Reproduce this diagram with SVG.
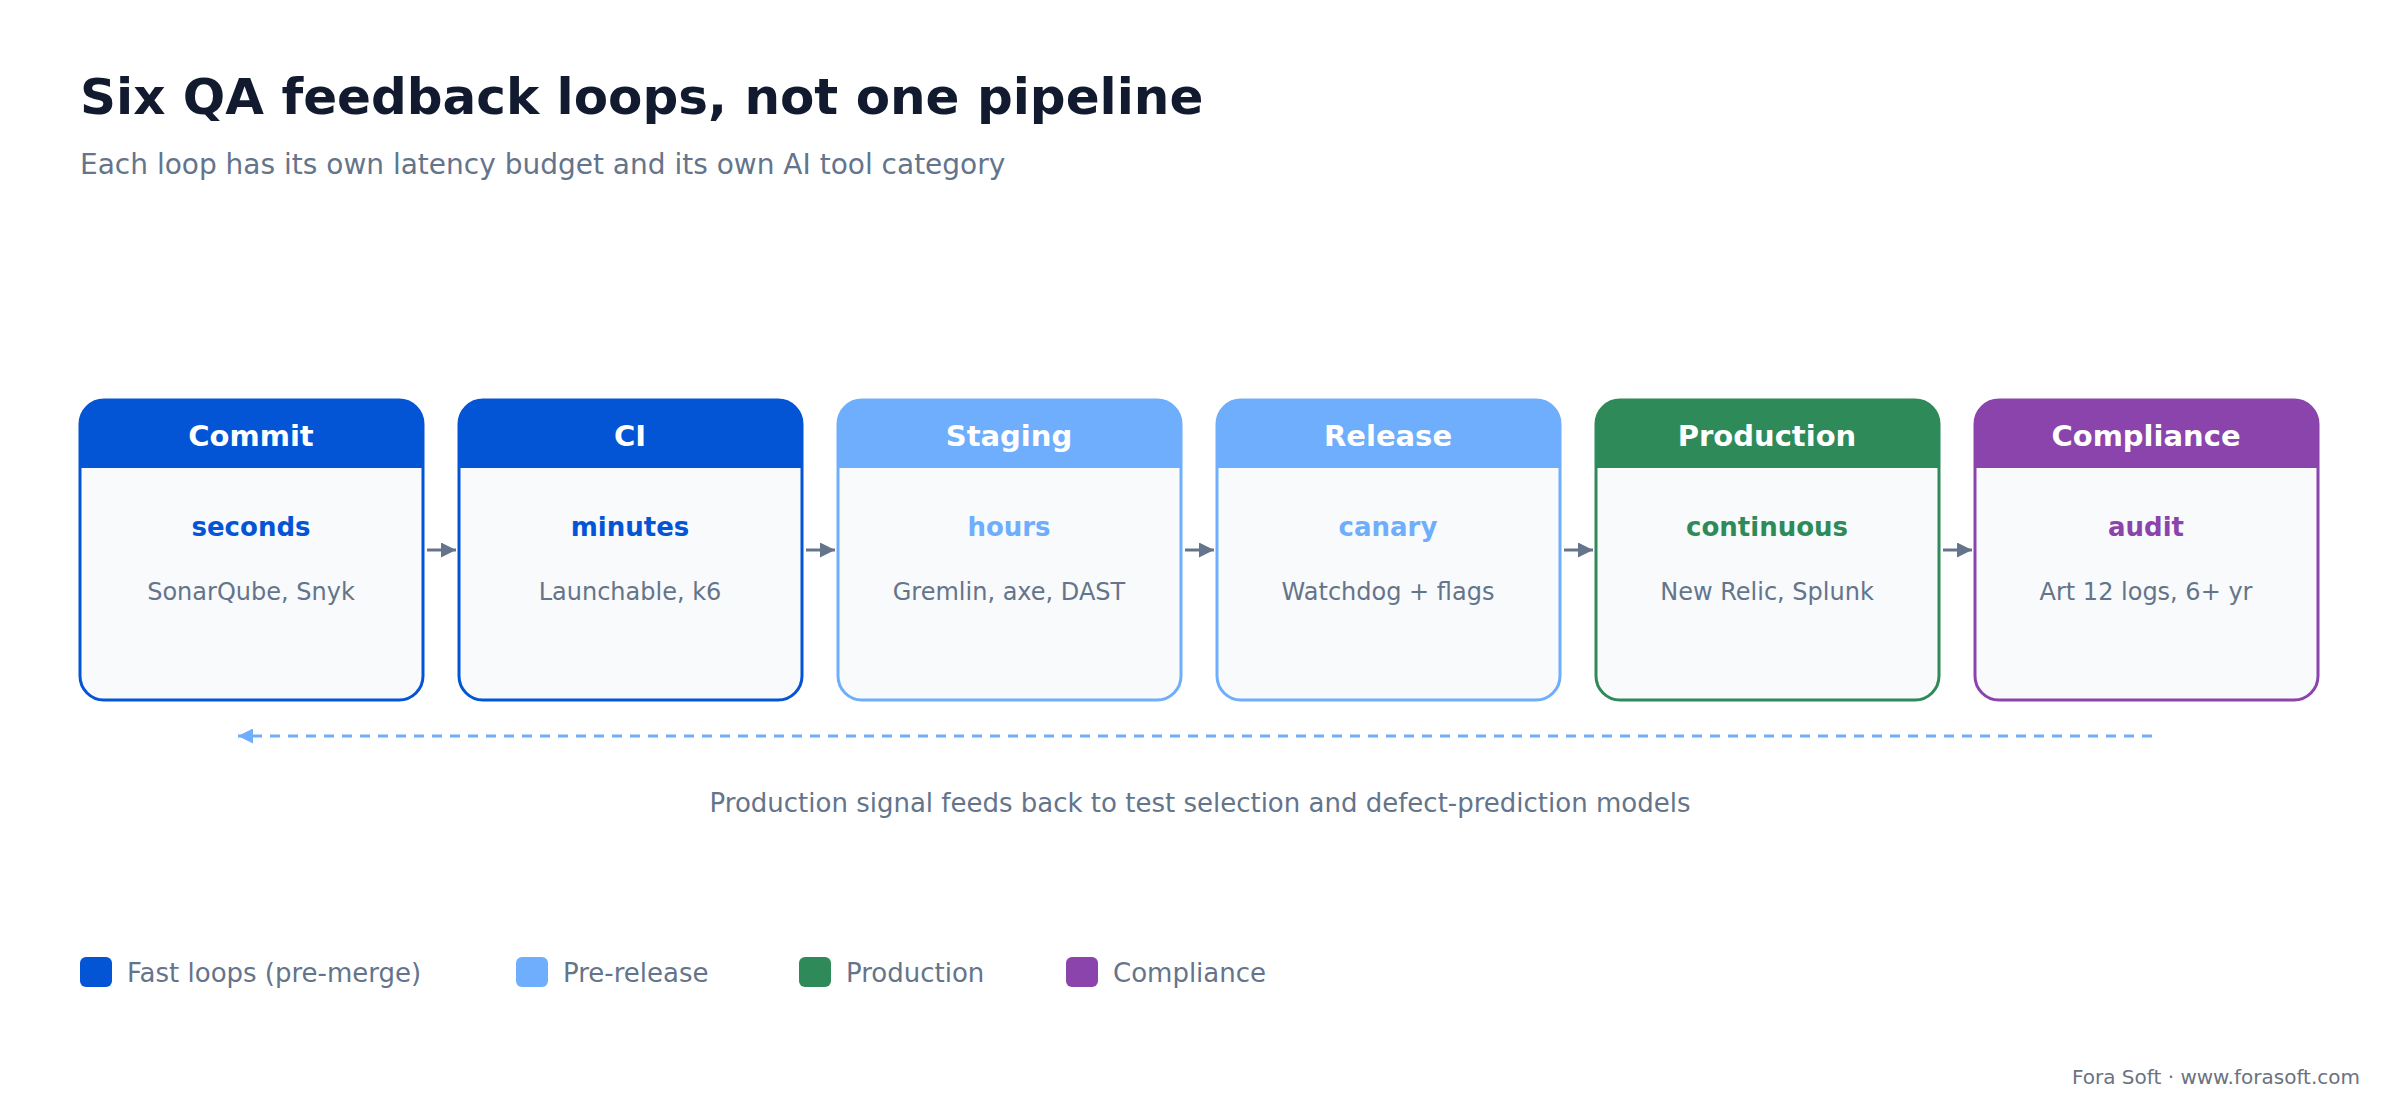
<svg xmlns="http://www.w3.org/2000/svg" width="2400" height="1120" viewBox="0 0 2400 1120">
<style>
text{font-family:"DejaVu Sans",sans-serif}
.t{font-size:50px;font-weight:bold;fill:#111a2e}
.s{font-size:28px;fill:#64748b}
.h{font-size:29px;font-weight:bold;fill:#fff;text-anchor:middle}
.l{font-size:26px;font-weight:bold;text-anchor:middle}
.d{font-size:24px;fill:#64748b;text-anchor:middle}
.g{font-size:26px;fill:#64748b}
.body{fill:#f8fafc;stroke-width:3}
</style>
<defs>
<marker id="a" viewBox="0 0 10 10" refX="10" refY="5" markerWidth="5" markerHeight="5" orient="auto"><path d="M0,0L10,5L0,10z" fill="#64748b"/></marker>
<marker id="b" viewBox="0 0 10 10" refX="10" refY="5" markerWidth="5" markerHeight="5" orient="auto"><path d="M0,0L10,5L0,10z" fill="#6eaefc"/></marker>
</defs>
<rect width="2400" height="1120" fill="#fff"/>
<text class="t" x="80" y="114">Six QA feedback loops, not one pipeline</text>
<text class="s" x="80" y="174">Each loop has its own latency budget and its own AI tool category</text>
<g id="n1"><rect class="body" x="80" y="400" width="343" height="300" rx="24" stroke="#0355d6"/><path d="M80,468V424a24,24 0 0 1 24-24H399a24,24 0 0 1 24,24V468z" fill="#0355d6"/><text class="h" x="251" y="446">Commit</text><text class="l" x="251" y="536" fill="#0355d6">seconds</text><text class="d" x="251" y="600">SonarQube, Snyk</text></g>
<g id="n2"><rect class="body" x="459" y="400" width="343" height="300" rx="24" stroke="#0355d6"/><path d="M459,468V424a24,24 0 0 1 24-24H778a24,24 0 0 1 24,24V468z" fill="#0355d6"/><text class="h" x="630" y="446">CI</text><text class="l" x="630" y="536" fill="#0355d6">minutes</text><text class="d" x="630" y="600">Launchable, k6</text></g>
<g id="n3"><rect class="body" x="838" y="400" width="343" height="300" rx="24" stroke="#6eaefc"/><path d="M838,468V424a24,24 0 0 1 24-24H1157a24,24 0 0 1 24,24V468z" fill="#6eaefc"/><text class="h" x="1009" y="446">Staging</text><text class="l" x="1009" y="536" fill="#6eaefc">hours</text><text class="d" x="1009" y="600">Gremlin, axe, DAST</text></g>
<g id="n4"><rect class="body" x="1217" y="400" width="343" height="300" rx="24" stroke="#6eaefc"/><path d="M1217,468V424a24,24 0 0 1 24-24H1536a24,24 0 0 1 24,24V468z" fill="#6eaefc"/><text class="h" x="1388" y="446">Release</text><text class="l" x="1388" y="536" fill="#6eaefc">canary</text><text class="d" x="1388" y="600">Watchdog + flags</text></g>
<g id="n5"><rect class="body" x="1596" y="400" width="343" height="300" rx="24" stroke="#2e8a58"/><path d="M1596,468V424a24,24 0 0 1 24-24H1915a24,24 0 0 1 24,24V468z" fill="#2e8a58"/><text class="h" x="1767" y="446">Production</text><text class="l" x="1767" y="536" fill="#2e8a58">continuous</text><text class="d" x="1767" y="600">New Relic, Splunk</text></g>
<g id="n6"><rect class="body" x="1975" y="400" width="343" height="300" rx="24" stroke="#8b44ac"/><path d="M1975,468V424a24,24 0 0 1 24-24H2294a24,24 0 0 1 24,24V468z" fill="#8b44ac"/><text class="h" x="2146" y="446">Compliance</text><text class="l" x="2146" y="536" fill="#8b44ac">audit</text><text class="d" x="2146" y="600">Art 12 logs, 6+ yr</text></g>
<g id="connectors" stroke-width="3" fill="none">
<g stroke="#64748b" marker-end="url(#a)"><path d="M427,550H456"/><path d="M806,550H835"/><path d="M1185,550H1214"/><path d="M1564,550H1593"/><path d="M1943,550H1972"/><path d="M2322,550H2351" display="none"/></g>
<path d="M2152,736H238" stroke="#6eaefc" stroke-dasharray="10,8" marker-end="url(#b)"/>
</g>
<text class="g" x="1200" y="812" text-anchor="middle">Production signal feeds back to test selection and defect-prediction models</text>
<g id="legend">
<rect x="80" y="957" width="32" height="30" rx="6" fill="#0355d6"/><text class="g" x="127" y="982">Fast loops (pre-merge)</text>
<rect x="516" y="957" width="32" height="30" rx="6" fill="#6eaefc"/><text class="g" x="563" y="982">Pre-release</text>
<rect x="799" y="957" width="32" height="30" rx="6" fill="#2e8a58"/><text class="g" x="846" y="982">Production</text>
<rect x="1066" y="957" width="32" height="30" rx="6" fill="#8b44ac"/><text class="g" x="1113" y="982">Compliance</text>
</g>
<text x="2360" y="1084" font-size="20" fill="#6b7280" text-anchor="end">Fora Soft · www.forasoft.com</text>
</svg>
